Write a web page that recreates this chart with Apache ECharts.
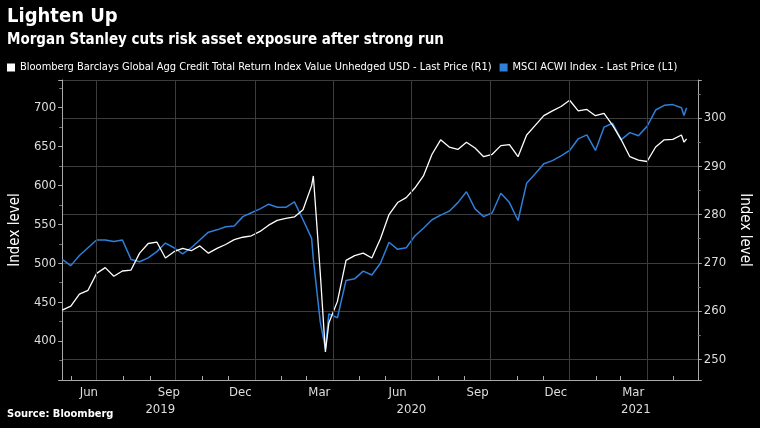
<!DOCTYPE html>
<html lang="en">
<head>
<meta charset="UTF-8">
<title>Lighten Up</title>
<script src="https://cdn.jsdelivr.net/npm/echarts@6/dist/echarts.min.js"></script>
<style>html,body{margin:0;background:#000;}</style>
</head>
<body>
<div id="main" style="width:760px;height:428px"></div>
<script type="text/javascript">
// dates of the readings
var dates = ['2019-05-22','2019-06-01','2019-06-11','2019-06-21','2019-07-01','2019-07-11','2019-07-21','2019-07-31',
  '2019-08-10','2019-08-20','2019-08-30','2019-09-09','2019-09-19','2019-09-29','2019-10-09','2019-10-19','2019-10-29',
  '2019-11-08','2019-11-18','2019-11-28','2019-12-08','2019-12-18','2019-12-28','2020-01-07','2020-01-17','2020-01-27',
  '2020-02-06','2020-02-16','2020-02-26','2020-03-07','2020-03-09','2020-03-17','2020-03-23','2020-03-27','2020-04-06',
  '2020-04-16','2020-04-26','2020-05-06','2020-05-16','2020-05-26','2020-06-05','2020-06-15','2020-06-25','2020-07-05',
  '2020-07-15','2020-07-25','2020-08-04','2020-08-14','2020-08-24','2020-09-03','2020-09-13','2020-09-23','2020-10-03',
  '2020-10-13','2020-10-23','2020-11-02','2020-11-12','2020-11-22','2020-12-02','2020-12-12','2020-12-22','2021-01-01',
  '2021-01-11','2021-01-21','2021-01-31','2021-02-10','2021-02-20','2021-03-02','2021-03-12','2021-03-22','2021-04-01',
  '2021-04-11','2021-04-21','2021-05-01','2021-05-11','2021-05-14','2021-05-17'];
// Bloomberg Barclays Global Agg Credit (right axis)
var credit = [260.2,261,263.5,264.3,267.8,269,267.2,268.3,268.5,272,274,274.3,271,272.3,273,272.5,273.5,
  272,273,273.8,274.8,275.3,275.6,276.5,277.8,278.8,279.2,279.5,281,286,288,268,251.5,257.5,262,
  270.5,271.5,272,271,275,280,282.5,283.5,285.5,288,292.5,295.5,294,293.5,295,293.8,292,292.5,
  294.3,294.5,292,296.5,298.5,300.5,301.5,302.4,303.7,301.5,301.8,300.5,301,298.5,295.5,292,
  291.3,291,294,295.5,295.6,296.5,295,295.7];
// MSCI ACWI (left axis)
var acwi = [505,497,510,520,530,530,528,530,505,502,507,515,526,520,512,520,530,
  540,543,547,548,560,565,570,576,572,572,579,556,532,505,425,390,435,430,
  478,480,490,485,500,527,518,520,535,545,556,562,567,578,592,570,560,565,
  590,578,555,603,615,628,632,638,645,660,665,645,675,680,659,668,
  664,676,697,703,704,700,690,700];

var gridDates = ['2019-07-01','2019-10-01','2020-01-01','2020-04-01','2020-07-01','2020-10-01','2021-01-01','2021-04-01'];
var monthStarts = ['2019-06-01','2019-07-01','2019-08-01','2019-09-01','2019-10-01','2019-11-01','2019-12-01','2020-01-01',
  '2020-02-01','2020-03-01','2020-04-01','2020-05-01','2020-06-01','2020-07-01','2020-08-01','2020-09-01','2020-10-01',
  '2020-11-01','2020-12-01','2021-01-01','2021-02-01','2021-03-01','2021-04-01','2021-05-01'];
var monthLabelDates = ['2019-06-22','2019-09-23','2019-12-15','2020-03-16','2020-06-15','2020-09-16','2020-12-16','2021-03-16'];
var monthLabels = ['Jun','Sep','Dec','Mar','Jun','Sep','Dec','Mar'];
var yearLabelDates = ['2019-09-13','2020-07-01','2021-03-19'];
var yearLabels = ['2019','2020','2021'];

function ts(d) { return new Date(d + 'T00:00:00Z').getTime(); }
function pair(vals) { return dates.map(function (d, i) { return [ts(d), vals[i]]; }); }
function lookup(keys, names) {
    var t = keys.map(ts);
    return function (v) { var i = t.indexOf(v); return i < 0 ? '' : names[i]; };
}

var labelFont = "'Liberation Sans Narrow','DejaVu Sans Condensed',sans-serif";
var xMin = ts('2019-05-22'), xMax = ts('2021-05-30');
var myChart = echarts.init(document.getElementById('main'));
myChart.setOption({
    backgroundColor: '#000',
    animation: false,
    title: [
        {text: 'Lighten Up', left: 2, top: 2, textStyle: {color: '#fff', fontSize: 20, fontWeight: 'bold', fontFamily: 'DejaVu Sans Condensed'}},
        {text: 'Morgan Stanley cuts risk asset exposure after strong run', left: 2, top: 28,
            textStyle: {color: '#fff', fontSize: 15, fontWeight: 'bold', fontFamily: 'DejaVu Sans Condensed'}},
        {text: 'Source: Bloomberg', left: 2, bottom: 3, textStyle: {color: '#fff', fontSize: 11, fontWeight: 'bold', fontFamily: 'DejaVu Sans Condensed'}}
    ],
    legend: {
        left: 2, top: 57, itemWidth: 8, itemHeight: 8, itemGap: 8, icon: 'rect',
        textStyle: {color: '#fff', fontSize: 11, fontFamily: labelFont},
        data: ['Bloomberg Barclays Global Agg Credit Total Return Index Value Unhedged USD - Last Price (R1)',
               'MSCI ACWI Index - Last Price (L1)']
    },
    grid: {left: 51, right: 55, top: 80, bottom: 48},
    xAxis: [{
        type: 'value', min: xMin, max: xMax,
        axisLine: {lineStyle: {color: '#aaa'}},
        axisTick: {show: true, inside: true, length: 4, lineStyle: {color: '#aaa'}, customValues: monthStarts.map(ts)},
        axisLabel: {color: '#ddd', fontSize: 13, fontFamily: labelFont, margin: 6,
            customValues: monthLabelDates.map(ts), formatter: lookup(monthLabelDates, monthLabels)},
        splitLine: {show: false}
    }, {
        type: 'value', position: 'bottom', offset: 17, min: xMin, max: xMax,
        axisLine: {show: false}, axisTick: {show: false}, splitLine: {show: false},
        axisLabel: {color: '#ddd', fontSize: 13, fontFamily: labelFont, margin: 6,
            customValues: yearLabelDates.map(ts), formatter: lookup(yearLabelDates, yearLabels)}
    }],
    yAxis: [{
        type: 'value', position: 'left', min: 350, max: 735.6, interval: 50,
        name: 'Index level', nameLocation: 'middle', nameGap: 32,
        nameTextStyle: {color: '#fff', fontSize: 15, fontFamily: labelFont},
        axisLine: {show: true, lineStyle: {color: '#aaa'}},
        axisTick: {show: true, length: 4, lineStyle: {color: '#aaa'}},
        minorTick: {show: true, splitNumber: 2, length: 3, lineStyle: {color: '#777'}},
        axisLabel: {color: '#ddd', fontSize: 13, fontFamily: labelFont, margin: 6, showMinLabel: false, showMaxLabel: false},
        splitLine: {show: false}
    }, {
        type: 'value', position: 'right', min: 245.7, max: 307.9,
        name: 'Index level', nameLocation: 'middle', nameGap: 34, nameRotate: -90,
        nameTextStyle: {color: '#fff', fontSize: 15, fontFamily: labelFont},
        axisLine: {show: true, lineStyle: {color: '#aaa'}},
        axisTick: {show: true, length: 4, lineStyle: {color: '#aaa'}},
        minorTick: {show: true, splitNumber: 2, length: 3, lineStyle: {color: '#777'}},
        axisLabel: {color: '#ddd', fontSize: 13, fontFamily: labelFont, margin: 6,
            formatter: function (v) { return (v >= 250 && v <= 300) ? v : ''; }},
        splitLine: {show: true, lineStyle: {color: '#3c3c3c', width: 1}}
    }],
    series: [{
        name: 'Bloomberg Barclays Global Agg Credit Total Return Index Value Unhedged USD - Last Price (R1)',
        type: 'line', yAxisIndex: 1, data: pair(credit), showSymbol: false,
        lineStyle: {color: '#ffffff', width: 1.3}, itemStyle: {color: '#ffffff'}, z: 3,
        markLine: {
            silent: true, symbol: 'none', label: {show: false},
            lineStyle: {color: '#3c3c3c', type: 'solid', width: 1},
            data: gridDates.map(function (d) { return {xAxis: ts(d)}; })
        }
    }, {
        name: 'MSCI ACWI Index - Last Price (L1)',
        type: 'line', yAxisIndex: 0, data: pair(acwi), showSymbol: false,
        lineStyle: {color: '#2f7ed8', width: 1.5}, itemStyle: {color: '#2f7ed8'}, z: 2
    }]
});
</script>
</body>
</html>
